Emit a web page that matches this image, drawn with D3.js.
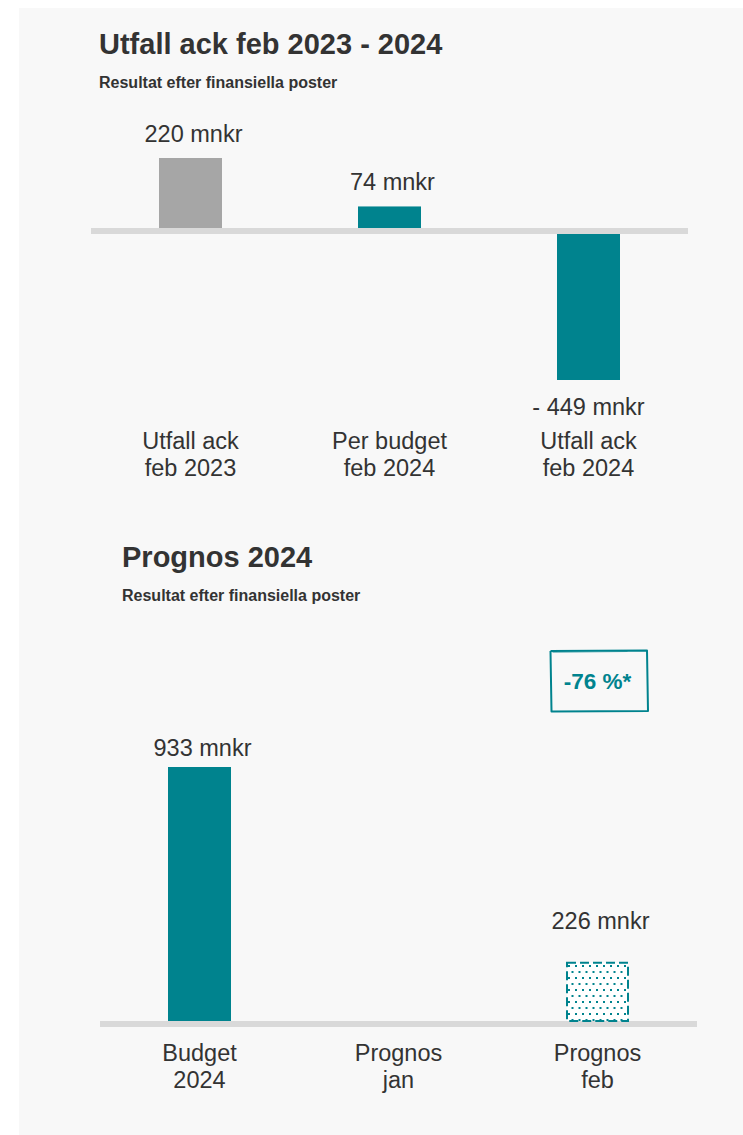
<!DOCTYPE html>
<html><head><meta charset="utf-8">
<script src="https://cdn.jsdelivr.net/npm/d3@7"></script>
<style>
html,body{margin:0;padding:0;background:#fff;}
svg{display:block;}
text{font-family:"Liberation Sans",Arial,Helvetica,sans-serif;fill:#333;}
</style></head>
<body>
<script>
// ---- data ----
const topCategories = [["Utfall ack","feb 2023"],["Per budget","feb 2024"],["Utfall ack","feb 2024"]];
const topValues = [220, 74, -449];
const topLabels = ["220 mnkr", "74 mnkr", "- 449 mnkr"];
const topKinds = ["prev", "actual", "actual"];

const botCategories = [["Budget","2024"],["Prognos","jan"],["Prognos","feb"]];
const botValues = [933, null, 226];
const botLabels = ["933 mnkr", "", "226 mnkr"];
const botKinds = ["actual", "none", "forecast"];
const changeLabel = "-76 %*";

const titles = ["Utfall ack feb 2023 - 2024", "Prognos 2024"];
const subtitle = "Resultat efter finansiella poster";

// ---- styles ----
const TEAL = "#00838e", GREY = "#a6a6a6", BASE = "#d9d9d9";
const W = 743, H = 1135;

const svg = d3.select("body").append("svg").attr("width", W).attr("height", H);
svg.append("rect").attr("x", 19).attr("y", 8).attr("width", W - 19).attr("height", H - 8).attr("fill", "#f8f8f8");

const defs = svg.append("defs");
const pat = defs.append("pattern").attr("id", "dots").attr("patternUnits", "userSpaceOnUse")
  .attr("width", 7).attr("height", 12).attr("x", 567).attr("y", 964);
pat.append("rect").attr("width", 7).attr("height", 12).attr("fill", "#fff");
pat.append("rect").attr("x", 1).attr("y", 1).attr("width", 2).attr("height", 2).attr("fill", TEAL);
pat.append("rect").attr("x", 4.5).attr("y", 7).attr("width", 2).attr("height", 2).attr("fill", TEAL);

function drawChart(cfg) {
  const g = svg.append("g");
  g.append("text").attr("x", cfg.titleX).attr("y", cfg.titleY).attr("font-size", 29).attr("font-weight", "bold").text(cfg.title);
  g.append("text").attr("x", cfg.titleX).attr("y", cfg.titleY + 34).attr("font-size", 16).attr("font-weight", "bold").text(subtitle);

  const keys = cfg.cats.map((c, i) => i);
  const x = d3.scaleBand().domain(keys).range(cfg.xRange).paddingInner(1 - 63/199).paddingOuter((1 - 63/199)/2);
  const y = d3.scaleLinear().domain(cfg.yDomain).range(cfg.yRange);
  const y0 = y(0);

  // baseline
  g.append("rect").attr("x", cfg.xRange[0]).attr("y", y0 - 3).attr("width", cfg.xRange[1] - cfg.xRange[0]).attr("height", 6).attr("fill", BASE);

  keys.forEach(i => {
    const v = cfg.values[i];
    const cx = x(i) + x.bandwidth() / 2;
    if (v != null) {
      const top = v >= 0 ? y(v) : y0 + 3;
      const h = v >= 0 ? (y0 - 3) - y(v) : y(v) - (y0 + 3);
      const kind = cfg.kinds[i];
      if (kind === "forecast") {
        g.append("rect").attr("x", x(i) + 1).attr("y", top + 1).attr("width", x.bandwidth() - 2).attr("height", h - 1)
          .attr("fill", "url(#dots)").attr("stroke", TEAL).attr("stroke-width", 2).attr("stroke-dasharray", "9,4");
      } else {
        g.append("rect").attr("x", x(i)).attr("y", top).attr("width", x.bandwidth()).attr("height", h)
          .attr("fill", kind === "prev" ? GREY : TEAL);
      }
      const ly = v >= 0 ? top - (kind === "forecast" ? 33 : cfg.labelGap) : y(v) + 35;
      g.append("text").attr("x", cx + (v >= 0 ? 3 : 0)).attr("y", ly).attr("text-anchor", "middle")
        .attr("font-size", 23.5).text(cfg.labels[i]);
    }
    cfg.cats[i].forEach((line, j) => {
      g.append("text").attr("x", cx).attr("y", cfg.catY + j * 27).attr("text-anchor", "middle")
        .attr("font-size", 23.5).text(line);
    });
  });
  return {x, y};
}

drawChart({
  title: titles[0], titleX: 99, titleY: 54,
  cats: topCategories, values: topValues, labels: topLabels, kinds: topKinds,
  xRange: [91, 688], yDomain: [-449, 220], yRange: [380, 158],
  labelGap: 16, catY: 449
});

const b = drawChart({
  title: titles[1], titleX: 122, titleY: 567,
  cats: botCategories, values: botValues, labels: botLabels, kinds: botKinds,
  xRange: [100, 697], yDomain: [0, 933], yRange: [1024, 767],
  labelGap: 11, catY: 1061
});

// hand-drawn change box above forecast bar
const bx = b.x(2) + b.x.bandwidth() / 2;
const boxPts = [[bx - 47, 651], [bx + 49.5, 650.5], [bx + 50.5, 711], [bx - 46, 711.5], [bx - 47, 651]];
svg.append("path").attr("d", d3.line().curve(d3.curveLinear)(boxPts))
  .attr("fill", "none").attr("stroke", TEAL).attr("stroke-width", 2).attr("stroke-linejoin", "round");
svg.append("path").attr("d", d3.line()([[bx - 45, 652.5], [bx + 30, 651.5]]))
  .attr("fill", "none").attr("stroke", TEAL).attr("stroke-width", 0.8).attr("opacity", 0.6);
svg.append("text").attr("x", bx).attr("y", 689).attr("text-anchor", "middle").attr("font-size", 22.5)
  .attr("font-weight", "bold").style("fill", TEAL).text(changeLabel);
</script>
</body></html>
